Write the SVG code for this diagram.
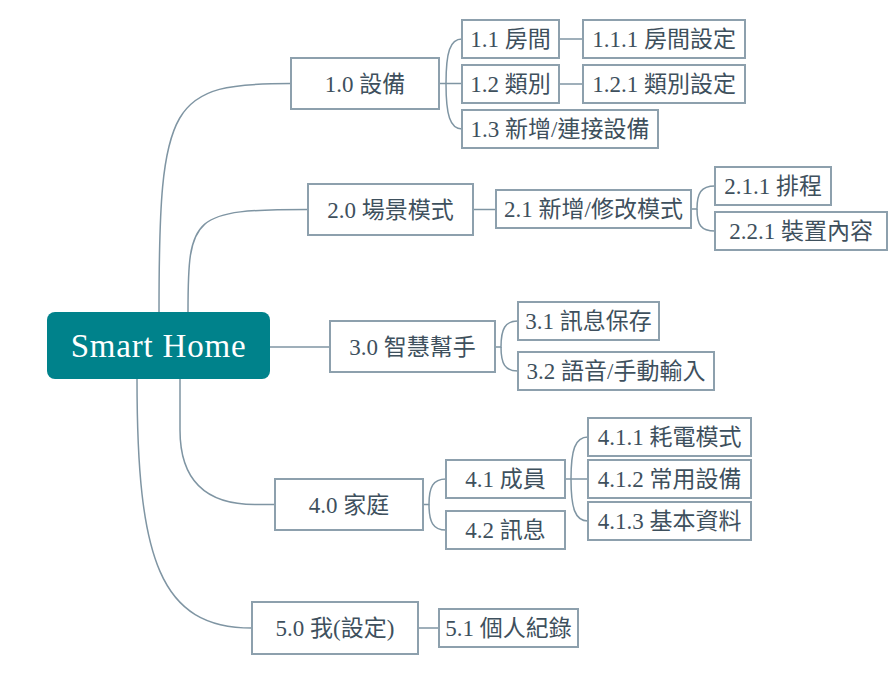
<svg xmlns="http://www.w3.org/2000/svg" width="895" height="680" viewBox="0 0 895 680">
  <style>
    .box { fill: #ffffff; stroke: #8da0ad; stroke-width: 2; }
    .lbl { font-family: "Liberation Serif", "Noto Sans CJK TC", serif; font-size: 23px; fill: #3e505d; text-anchor: middle; }
    .root-box { fill: #00828b; }
    .root-lbl { font-family: "Liberation Serif", serif; font-size: 33px; fill: #ffffff; text-anchor: middle; letter-spacing: 0.8px; }
    .conn path { fill: none; stroke: #7f95a3; stroke-width: 1.5; }
  </style>
  <rect width="895" height="680" fill="#ffffff"/>

  <!-- connectors -->
  <g id="connectors" class="conn">
    <path d="M159,312 C159,100 170,83.5 291,83.5"/>
    <path d="M188,312 C188,215 192,209.5 308,209.5"/>
    <path d="M270,347 L330,347"/>
    <path d="M180,379 L180,430 Q180,504.5 255,504.5 L275,504.5"/>
    <path d="M137,379 C137,560 160,628 252,628"/>

    <path d="M439,83.5 L446,83.5 L462,83.5"/>
    <path d="M446,83.5 C446,52 450,39 462,39"/>
    <path d="M446,83.5 C446,115 450,129 462,129"/>
    <path d="M559,39 L583,39"/>
    <path d="M559,84 L583,84"/>

    <path d="M473,209.5 L496,209.5"/>
    <path d="M691,209 L697,209 C697,193 701,186 715,186"/>
    <path d="M697,209 C697,225 701,231 715,231"/>

    <path d="M495,347 L501,347 C501,329 505,321 518,321"/>
    <path d="M501,347 C501,364 505,371 518,371"/>

    <path d="M423,504.5 L429,504.5 C429,487 433,479 446,479"/>
    <path d="M429,504.5 C429,522 433,530 446,530"/>
    <path d="M565,479 L571,479 L588,479"/>
    <path d="M571,479 C571,450 575,437 588,437"/>
    <path d="M571,479 C571,508 575,521 588,521"/>

    <path d="M418,628 L439,628"/>
  </g>

  <!-- root -->
  <g id="root">
    <rect class="root-box" x="47" y="312" width="223" height="67" rx="8"/>
    <text class="root-lbl" x="158.5" y="356.5">Smart Home</text>
  </g>

  <!-- 1.0 branch -->
  <g id="n1-0"><rect class="box" x="291" y="58" width="148" height="51"/><text class="lbl" x="365" y="92">1.0 設備</text></g>
  <g id="n1-1"><rect class="box" x="462" y="20" width="97" height="38"/><text class="lbl" x="510.5" y="47">1.1 房間</text></g>
  <g id="n1-2"><rect class="box" x="462" y="65" width="97" height="38"/><text class="lbl" x="510.5" y="92">1.2 類別</text></g>
  <g id="n1-3"><rect class="box" x="462" y="110" width="196" height="38"/><text class="lbl" x="560" y="137">1.3 新增/連接設備</text></g>
  <g id="n1-1-1"><rect class="box" x="583" y="20" width="162" height="38"/><text class="lbl" x="664" y="47">1.1.1 房間設定</text></g>
  <g id="n1-2-1"><rect class="box" x="583" y="65" width="162" height="38"/><text class="lbl" x="664" y="92">1.2.1 類別設定</text></g>

  <!-- 2.0 branch -->
  <g id="n2-0"><rect class="box" x="308" y="184" width="165" height="51"/><text class="lbl" x="390.5" y="218">2.0 場景模式</text></g>
  <g id="n2-1"><rect class="box" x="496" y="190" width="195" height="38"/><text class="lbl" x="593.5" y="217">2.1 新增/修改模式</text></g>
  <g id="n2-1-1"><rect class="box" x="715" y="167" width="116" height="38"/><text class="lbl" x="773" y="194">2.1.1 排程</text></g>
  <g id="n2-2-1"><rect class="box" x="715" y="212" width="172" height="38"/><text class="lbl" x="801" y="239">2.2.1 裝置內容</text></g>

  <!-- 3.0 branch -->
  <g id="n3-0"><rect class="box" x="330" y="321" width="165" height="51"/><text class="lbl" x="412.5" y="355">3.0 智慧幫手</text></g>
  <g id="n3-1"><rect class="box" x="518" y="302" width="141" height="38"/><text class="lbl" x="588.5" y="329">3.1 訊息保存</text></g>
  <g id="n3-2"><rect class="box" x="518" y="352" width="196" height="38"/><text class="lbl" x="616" y="379">3.2 語音/手動輸入</text></g>

  <!-- 4.0 branch -->
  <g id="n4-0"><rect class="box" x="275" y="479" width="148" height="51"/><text class="lbl" x="349" y="513">4.0 家庭</text></g>
  <g id="n4-1"><rect class="box" x="446" y="460" width="119" height="38"/><text class="lbl" x="505.5" y="487">4.1 成員</text></g>
  <g id="n4-2"><rect class="box" x="446" y="511" width="119" height="38"/><text class="lbl" x="505.5" y="538">4.2 訊息</text></g>
  <g id="n4-1-1"><rect class="box" x="588" y="418" width="163" height="38"/><text class="lbl" x="669.5" y="445">4.1.1 耗電模式</text></g>
  <g id="n4-1-2"><rect class="box" x="588" y="460" width="163" height="38"/><text class="lbl" x="669.5" y="487">4.1.2 常用設備</text></g>
  <g id="n4-1-3"><rect class="box" x="588" y="502" width="163" height="38"/><text class="lbl" x="669.5" y="529">4.1.3 基本資料</text></g>

  <!-- 5.0 branch -->
  <g id="n5-0"><rect class="box" x="252" y="602" width="166" height="52"/><text class="lbl" x="335" y="636">5.0 我(設定)</text></g>
  <g id="n5-1"><rect class="box" x="439" y="609" width="139" height="38"/><text class="lbl" x="508.5" y="636">5.1 個人紀錄</text></g>
</svg>
